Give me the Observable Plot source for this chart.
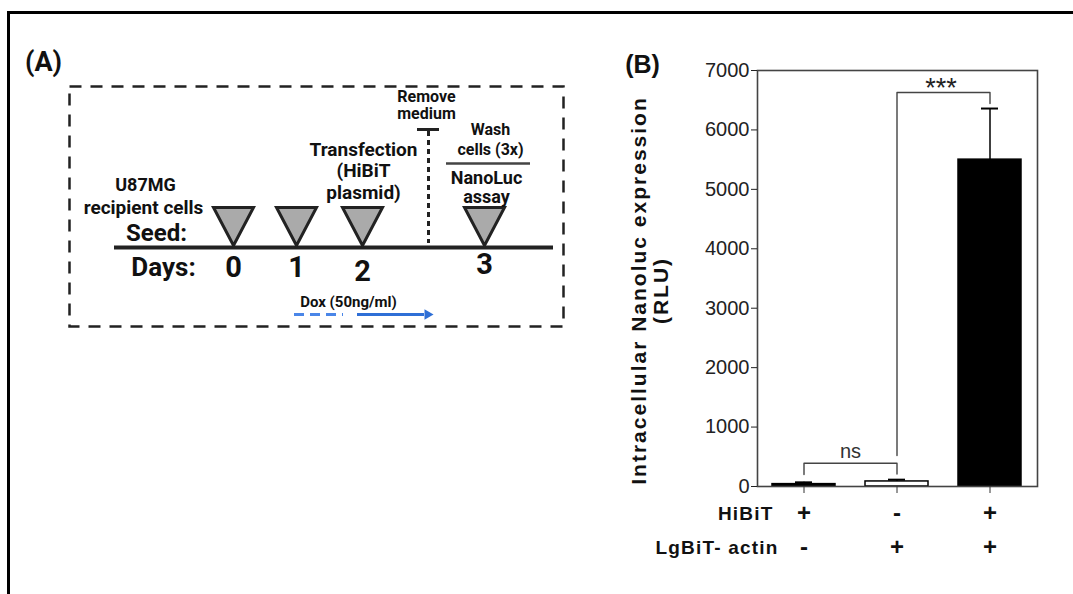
<!DOCTYPE html>
<html><head><meta charset="utf-8">
<script src="https://cdn.jsdelivr.net/npm/d3@7"></script>
<script src="https://cdn.jsdelivr.net/npm/@observablehq/plot@0.6"></script>
<style>
html,body{margin:0;padding:0;background:#fff;}
#fig{position:relative;width:1073px;height:594px;overflow:hidden;background:#fff;}
#fig svg{position:absolute;background:transparent !important;}
#border{position:absolute;left:7px;top:11px;width:1100px;height:700px;border-left:3px solid #000;border-top:3px solid #000;}
</style></head><body><div id="fig"><div id="border"></div></div>
<script>
// ---------------- Panel B data ----------------
const groupIds = ["g1", "g2", "g3"];
const meanRLU = [40, 85, 5500];
const semRLU = [30, 30, 860];
const hibitSign = ["+", "-", "+"];
const lgbitSign = ["-", "+", "+"];
const rowLabels = ["HiBiT", "LgBiT- actin"];
const yTicks = [0, 1000, 2000, 3000, 4000, 5000, 6000, 7000];
const yLabel = "Intracellular Nanoluc expression\n(RLU)";
const sigText = ["ns", "***"];
const sigFrom = ["g1", "g2"];
const sigTo = ["g2", "g3"];
const sigTop = [390, 6630];
const sigLeftEnd = [200, 520];
const sigRightEnd = [210, 6445];

// ---------------- Panel A content ----------------
const dayLabels = ["0", "1", "2", "3"];
const schematicTexts = ["(A)", "U87MG", "recipient cells", "Seed:", "Days:",
  "Transfection\n(HiBiT\nplasmid)", "Remove\nmedium", "Wash\ncells (3x)", "NanoLuc\nassay", "Dox (50ng/ml)"];

// ---------------- styles / layout ----------------
const barFill = {g1: "black", g2: "white", g3: "black"};
const dayX = [233, 296, 362, 484];
const dayLabelY = [267, 267, 271, 264];
const textX = [43, 145, 143, 156, 163, 363, 426, 490, 486, 348];
const textY = [62, 185, 207, 233, 267, 170, 104.5, 138, 187, 302];
const textSize = [27, 18, 19, 24, 26, 19, 16, 16, 18, 15];
const textLH = [1, 1, 1, 1, 1, 1.13, 1.08, 1.25, 1.05, 1];

const bars = groupIds.map((g, i) => ({group: g, mean: meanRLU[i], top: meanRLU[i] + semRLU[i],
  hibit: hibitSign[i], lgbit: lgbitSign[i], fill: barFill[g]}));
const bracketPts = sigText.flatMap((s, i) => [
  {label: s, x: sigFrom[i], y: sigLeftEnd[i]},
  {label: s, x: sigFrom[i], y: sigTop[i]},
  {label: s, x: sigTo[i], y: sigTop[i]},
  {label: s, x: sigTo[i], y: sigRightEnd[i]}
]);
const sigRows = sigText.map((s, i) => ({label: s, x: sigFrom[i], y: sigTop[i]}));

const fontB = "Liberation Sans, Arial, sans-serif";
const mid = {textAnchor: "middle", lineAnchor: "middle"};
const panelB = Plot.plot({
  width: 470, height: 540,
  marginLeft: 167, marginTop: 30, marginRight: 23, marginBottom: 94,
  style: {fontFamily: fontB, background: "transparent", overflow: "visible"},
  x: {domain: groupIds, paddingInner: 0.32, paddingOuter: 0.165, axis: null},
  y: {domain: [0, 7000], axis: null},
  color: {type: "identity"},
  marks: [
    Plot.barY(bars, {x: "group", y: "mean", fill: "fill", stroke: "black", strokeWidth: 1.5}),
    Plot.ruleX(bars, {x: "group", y1: "mean", y2: "top", stroke: "black", strokeWidth: 1.5}),
    Plot.tickY(bars, {x: "group", y: "top", stroke: "black", strokeWidth: 2, insetLeft: 23, insetRight: 23}),
    Plot.line(bracketPts, {x: "x", y: "y", z: "label", stroke: "#444", strokeWidth: 1.4}),
    Plot.text(sigRows.filter(d => d.label === "ns"), {x: "x", y: "y", text: "label", dx: 46.5, dy: -12, fontSize: 20, fill: "#333", ...mid}),
    Plot.text(sigRows.filter(d => d.label === "***"), {x: "x", y: "y", text: "label", dx: 44, dy: -4, fontSize: 27, fill: "#222", ...mid}),
    Plot.frame({stroke: "#444", strokeWidth: 1.6}),
    Plot.axisY({ticks: yTicks, tickFormat: d3.format("d"), tickSize: 6, tickPadding: 2, fontSize: 20, color: "#222", label: null}),
    Plot.axisX({tickSize: 7, tickFormat: () => "", label: null, color: "#333"}),
    Plot.text(bars, {x: "group", text: "hibit", frameAnchor: "bottom", dy: 27, fontSize: 24, fontWeight: "bold", fill: "#111", ...mid}),
    Plot.text(bars, {x: "group", text: "lgbit", frameAnchor: "bottom", dy: 61, fontSize: 24, fontWeight: "bold", fill: "#111", ...mid}),
    Plot.text([rowLabels[0]], {text: d => d, frameAnchor: "bottom-left", dx: 16, dy: 27, fontSize: 19, fontWeight: "bold", fill: "#111", textAnchor: "end", lineAnchor: "middle"}),
    Plot.text([rowLabels[1]], {text: d => d, frameAnchor: "bottom-left", dx: 21, dy: 61, fontSize: 19, fontWeight: "bold", fill: "#111", textAnchor: "end", lineAnchor: "middle"}),
    Plot.text([yLabel], {text: d => d, frameAnchor: "left", rotate: -90, dx: -108, dy: 12, lineHeight: 1.05, fontSize: 21, fontWeight: "bold", fill: "#111", ...mid}),
    Plot.text(["(B)"], {text: d => d, frameAnchor: "top-left", dx: -115, dy: -6, fontSize: 25, fontWeight: "bold", fill: "#111", ...mid})
  ]
});
panelB.style.left = "590px";
panelB.style.top = "40px";
// widen the glyph spacing of the y-axis title and the bold row labels
panelB.querySelectorAll("text").forEach(t => {
  if (t.textContent.includes("Intracellular")) t.style.letterSpacing = "2px";
  else if (t.textContent.includes("BiT")) t.style.letterSpacing = "1.2px";
});

// custom downward triangle anchored at its apex
const downTri = {
  draw(ctx, size) {
    const r = Math.sqrt(size / Math.PI);
    ctx.moveTo(-r, -1.9 * r);
    ctx.lineTo(r, -1.9 * r);
    ctx.lineTo(0, 0);
    ctx.closePath();
  }
};

const texts = schematicTexts.map((t, i) => ({t, x: textX[i], y: textY[i], s: textSize[i], lh: textLH[i]}));
const days = dayLabels.map((d, i) => ({d, x: dayX[i], y: dayLabelY[i]}));
const fontA = "Roboto, sans-serif";
const blue = "#2f6fd6";

const panelA = Plot.plot({
  width: 1073, height: 594,
  marginLeft: 69, marginTop: 86, marginRight: 510, marginBottom: 268,
  style: {fontFamily: fontA, background: "transparent", overflow: "visible"},
  x: {domain: [69, 563], axis: null},
  y: {domain: [326, 86], axis: null},
  marks: [
    Plot.frame({stroke: "#222", strokeWidth: 2.5, strokeDasharray: "12,9"}),
    Plot.ruleY([247], {x1: 114, x2: 553, stroke: "#222", strokeWidth: 4}),
    Plot.dot(days, {x: "x", y: 245, r: 20, symbol: downTri, fill: "#aaa", stroke: "#222", strokeWidth: 3}),
    Plot.text(days, {x: "x", y: "y", text: "d", fontSize: 29, fontWeight: "bold", fill: "#111"}),
    ...texts.map(d => Plot.text([d], {x: "x", y: "y", text: "t", fontSize: d.s, lineHeight: d.lh, fontWeight: "bold", fill: "#111"})),
    // remove-medium marker
    Plot.ruleY([129], {x1: 417, x2: 439, stroke: "#222", strokeWidth: 3}),
    Plot.ruleX([428], {y1: 131, y2: 243, stroke: "#222", strokeWidth: 3, strokeDasharray: "5,4"}),
    // wash / assay divider
    Plot.ruleY([163], {x1: 446, x2: 530, stroke: "#444", strokeWidth: 2.5}),
    // Dox arrow
    Plot.ruleY([314], {x1: 294, x2: 343, stroke: "#4a86e8", strokeWidth: 3, strokeDasharray: "10,6"}),
    Plot.ruleY([314], {x1: 357, x2: 424, stroke: blue, strokeWidth: 3}),
    Plot.dot([0], {x: 427, y: 314, symbol: "triangle2", rotate: 90, r: 5, fill: blue})
  ]
});
panelA.style.left = "0px";
panelA.style.top = "0px";

const fig = document.getElementById("fig");
fig.appendChild(panelA);
fig.appendChild(panelB);
</script>
</body></html>
